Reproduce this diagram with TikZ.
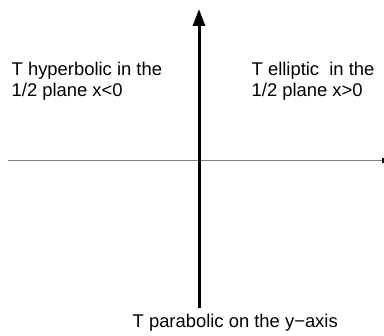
\documentclass[tikz,border=0pt]{standalone}
\usepackage{fontspec}
\setmainfont{Liberation Sans}
\usetikzlibrary{arrows.meta}
\tikzset{
  lbl/.style={inner sep=0pt, outer sep=0pt, align=left, font=\fontsize{18.4}{21}\selectfont, anchor=base west},
  yaxis/.style={line width=3pt, black, -{Triangle[length=17pt,width=12pt]}},
  xaxis/.style={line width=1pt, black!50, -{Rectangle[length=2pt,width=5pt,black]}}
}
\begin{document}
\begin{tikzpicture}[x=1pt,y=-1pt]
\useasboundingbox (0,0) rectangle (384,336);
\coordinate (xl) at (8,161);
\coordinate (xr) at (384,161);
\coordinate (yb) at (199,308);
\coordinate (yt) at (199,9);
\draw[xaxis] (xl) -- (xr);
\draw[yaxis] (yb) -- (yt);
\node[lbl] (hyp) at (11.7,97) {T hyperbolic in the\\1/2 plane x<0};
\node[lbl] (ell) at (251.7,97) {T elliptic\ \ in the\\1/2 plane x>0};
\node[lbl] (par) at (132.7,327.5) {T parabolic on the y−axis};
\end{tikzpicture}
\end{document}
